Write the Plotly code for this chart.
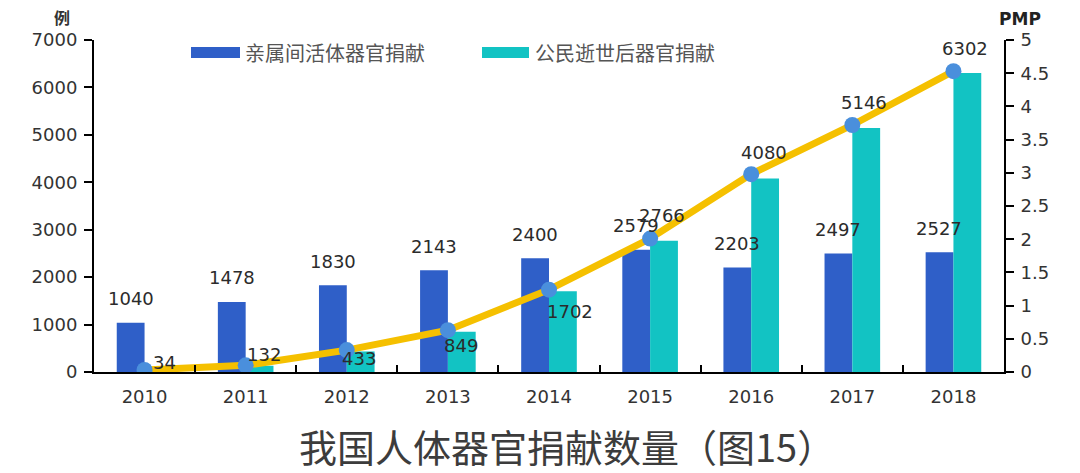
import plotly.graph_objects as go

years = ["2010", "2011", "2012", "2013", "2014", "2015", "2016", "2017", "2018"]
living = [1040, 1478, 1830, 2143, 2400, 2579, 2203, 2497, 2527]
deceased = [34, 132, 433, 849, 1702, 2766, 4080, 5146, 6302]
pmp = [0.03, 0.1, 0.33, 0.63, 1.24, 2.01, 2.98, 3.72, 4.53]

series_names = ["亲属间活体器官捐献", "公民逝世后器官捐献"]
title_text = "我国人体器官捐献数量（图15）"

# label placement offsets (pixels) for the deceased-donation value labels
dec_xshift = [20, 18, 12, 13, 21, 12, 13, 12, 12]
dec_yshift = [8, 11, -7, -14, -20, 25, 26, 25, 25]

BLUE = "#2F5FC8"
TEAL = "#12C3C3"
GOLD = "#F5C000"
DOT = "#4A8FDC"
NUM_FONT = dict(family="DejaVu Sans", size=18, color="#2b2b2b")

L, R, T, B = 94, 76, 40, 101
W, H = 1080, 473
pw, ph = W - L - R, H - T - B
def px(xp):
    return (xp - L) / pw
def py(yp):
    return (H - B - yp) / ph

fig = go.Figure()
fig.add_trace(go.Bar(x=years, y=living, name=series_names[0], marker_color=BLUE,
                     marker_line_width=0, showlegend=False))
fig.add_trace(go.Bar(x=years, y=deceased, name=series_names[1], marker_color=TEAL,
                     marker_line_width=0, showlegend=False))
fig.add_trace(go.Scatter(x=years, y=pmp, yaxis="y2", mode="lines+markers",
                         line=dict(color=GOLD, width=7),
                         marker=dict(color=DOT, size=16), showlegend=False))

annotations = []
for i, v in enumerate(living):
    annotations.append(dict(x=i, y=v, xref="x", yref="y", text=str(v), showarrow=False,
                            xanchor="center", yanchor="middle",
                            xshift=-14, yshift=24, font=NUM_FONT))
for i, (v, dx, dy) in enumerate(zip(deceased, dec_xshift, dec_yshift)):
    annotations.append(dict(x=i, y=v, xref="x", yref="y", text=str(v), showarrow=False,
                            xanchor="center", yanchor="middle",
                            xshift=dx, yshift=dy, font=NUM_FONT))

# axis unit labels
annotations.append(dict(x=px(62), y=py(17), xref="paper", yref="paper", text="<b>例</b>",
                        showarrow=False, xanchor="center", yanchor="middle",
                        font=dict(family="Noto Sans CJK SC", size=16, color="#333")))
annotations.append(dict(x=px(1020), y=py(19), xref="paper", yref="paper", text="<b>PMP</b>",
                        showarrow=False, xanchor="center", yanchor="middle",
                        font=dict(family="DejaVu Sans", size=17, color="#222")))
# legend texts
leg_font = dict(family="Noto Sans CJK SC", size=20, color="#555")
annotations.append(dict(x=px(243), y=py(52), xref="paper", yref="paper", text=series_names[0],
                        showarrow=False, xanchor="left", yanchor="middle", font=leg_font))
annotations.append(dict(x=px(533), y=py(52), xref="paper", yref="paper", text=series_names[1],
                        showarrow=False, xanchor="left", yanchor="middle", font=leg_font))
# title
annotations.append(dict(x=px(557), y=py(445), xref="paper", yref="paper", text=title_text,
                        showarrow=False, xanchor="center", yanchor="middle", xshift=10,
                        font=dict(family="Noto Sans CJK SC", size=38, color="#3c3c3c")))

shapes = [
    dict(type="rect", xref="paper", yref="paper", x0=px(191), x1=px(240), y0=py(58), y1=py(47),
         fillcolor=BLUE, line_width=0),
    dict(type="rect", xref="paper", yref="paper", x0=px(482), x1=px(529), y0=py(58), y1=py(47),
         fillcolor=TEAL, line_width=0),
]

tick_font = dict(family="DejaVu Sans", size=18, color="#333")
fig.update_layout(
    width=W, height=H,
    margin=dict(l=L, r=R, t=T, b=B, pad=0),
    plot_bgcolor="white", paper_bgcolor="white",
    barmode="group", bargap=0.45, bargroupgap=0,
    showlegend=False,
    annotations=annotations,
    shapes=shapes,
    xaxis=dict(type="category", showline=True, linecolor="black", linewidth=2,
               ticks="inside", tickson="boundaries", ticklen=7, tickwidth=1.5, tickcolor="black",
               tickfont=tick_font,
               showgrid=False, zeroline=False, range=[-0.5, 8.5], ticklabelstandoff=7),
    yaxis=dict(range=[0, 7000], dtick=1000, showline=True, linecolor="black", linewidth=2,
               ticks="outside", ticklen=8, tickwidth=1.5, tickcolor="black",
               tickfont=tick_font,
               showgrid=False, zeroline=False, ticklabelstandoff=3),
    yaxis2=dict(range=[0, 5], dtick=0.5, overlaying="y", side="right", showline=True,
                linecolor="black", linewidth=2, ticks="outside", ticklen=8, tickwidth=1.5,
                tickcolor="black", tickfont=tick_font,
                showgrid=False, zeroline=False, ticklabelstandoff=3),
)

fig.write_html("out.html")
